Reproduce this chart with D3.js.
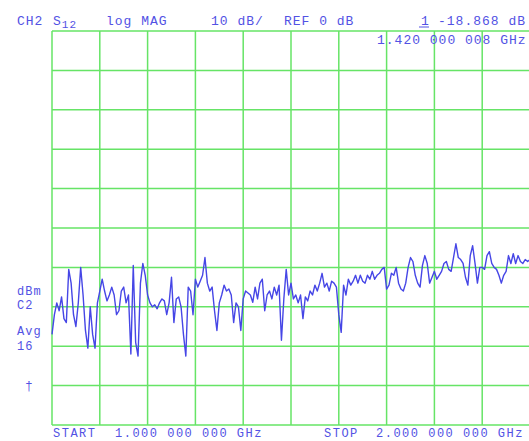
<!DOCTYPE html>
<html>
<head>
<meta charset="utf-8">
<script src="https://cdn.jsdelivr.net/npm/d3@7"></script>
<style>
  html, body { margin: 0; padding: 0; background: #ffffff; }
  svg { display: block; }
  .ann { font-family: "Liberation Mono", "DejaVu Sans Mono", monospace; font-size: 13px; fill: #5252e4; letter-spacing: 1px; }
  .side { font-size: 12px; }
  .foot { font-size: 12px; letter-spacing: 1.5px; }
</style>
</head>
<body>
<script>
// Sweep settings (GHz) and display scale (dB)
const startGHz = 1.0;
const stopGHz = 2.0;
const refLevel = 0;      // dB at the centre graticule line
const scaleDiv = 10;     // dB per division
const divisions = 10;

// S12 log-magnitude trace, 201 points across the sweep (dB)
const s12dB = [
  -27, -22, -19, -21, -17.5, -23, -24, -10.5, -14, -22, -25, -19, -10, -17, -26, -30.5, -20, -27, -30.5, -19, -16,
  -13, -16, -18.5, -17, -15, -17, -22, -21, -16, -15, -19, -17, -32, -9.5, -29, -32.5, -14, -9, -12, -17, -19,
  -20, -19.5, -20.5, -19, -18, -18.5, -22, -19, -12.5, -24, -18, -17.5, -20, -27, -32.5, -15, -16, -22, -13, -15,
  -13.5, -12, -7.5, -14, -16, -15, -21, -26, -19, -17, -14.5, -16, -15.5, -17, -24, -19, -20, -26, -18,
  -16, -16.5, -17, -18.868, -15, -18, -14, -13, -21, -17, -16, -18, -15, -17, -14.5, -28.5, -18, -10.5, -17, -14,
  -18, -17, -19, -17, -23, -17.5, -18.5, -16, -17, -14.5, -16, -14, -11.5, -15, -14, -16, -13.5, -14, -15, -22, -26.5,
  -14.5, -17, -13, -14.5, -13.5, -12, -14, -12, -13.5, -14, -12, -13, -11, -13, -12, -11.5, -10.5, -10, -15.5, -14.5,
  -11.5, -12, -10, -14, -15.5, -16, -14, -10, -7.5, -8.5, -12, -14, -15, -9.5, -7, -9, -14, -12.5, -11, -13,
  -12, -11, -9, -8.5, -10.5, -11, -7.5, -4, -7.5, -8, -9, -12.5, -14.5, -7, -4.5, -9, -14, -10, -10, -10.5,
  -7, -6, -9, -10, -10.5, -12, -14, -12, -11, -7, -9, -6.5, -9, -7, -8.5, -9, -8, -8.5, -8
];

// Annotation text
const headerItems = [
  { text: "CH2", x: 17 },
  { text: "log MAG", x: 106 },
  { text: "10 dB/", x: 211 },
  { text: "REF 0 dB", x: 284 },
  { text: "-18.868 dB", x: 438 }
];
const markerNo = "1";
const markerFreq = "1.420 000 008 GHz";
const sideLabels = [
  { text: "dBm", y: 295 },
  { text: "C2", y: 309 },
  { text: "Avg", y: 335 },
  { text: "16", y: 350 }
];
const footerItems = [
  { text: "START", x: 53 },
  { text: "1.000 000 000 GHz", x: 115 },
  { text: "STOP", x: 324 },
  { text: "2.000 000 000 GHz", x: 376 }
];

const W = 529, H = 441;
const plot = { left: 52, right: 530, top: 31, bottom: 425 };

const svg = d3.select("body").append("svg").attr("width", W).attr("height", H);

const x = d3.scaleLinear().domain([startGHz, stopGHz]).range([plot.left, plot.right]);
const y = d3.scaleLinear()
  .domain([refLevel - scaleDiv * divisions / 2, refLevel + scaleDiv * divisions / 2])
  .range([plot.bottom, plot.top]);

// Graticule
const grid = svg.append("g").attr("stroke", "#66e466").attr("stroke-width", 1.5).attr("fill", "none");
grid.selectAll("line.v").data(x.ticks(divisions)).join("line")
  .attr("class", "v")
  .attr("x1", d => x(d)).attr("x2", d => x(d))
  .attr("y1", plot.top).attr("y2", plot.bottom);
grid.selectAll("line.h").data(y.ticks(divisions)).join("line")
  .attr("class", "h")
  .attr("y1", d => y(d)).attr("y2", d => y(d))
  .attr("x1", plot.left).attr("x2", plot.right);

// Trace
const step = (stopGHz - startGHz) / (s12dB.length - 1);
const line = d3.line()
  .x((d, i) => x(startGHz + i * step))
  .y(d => y(d));
svg.append("path")
  .datum(s12dB)
  .attr("d", line)
  .attr("fill", "none")
  .attr("stroke", "#4646e6")
  .attr("stroke-width", 1.4)
  .attr("stroke-linejoin", "round");

// Header annotations
const ann = svg.append("g");
ann.selectAll("text.h").data(headerItems).join("text")
  .attr("class", "ann h")
  .attr("x", d => d.x).attr("y", 25)
  .text(d => d.text);

// Parameter label S12 with subscript
const s = ann.append("text").attr("class", "ann").attr("x", 53).attr("y", 25);
s.append("tspan").text("S");
s.append("tspan").attr("dy", 3).attr("font-size", 11).text("12");

// Marker number with underline and marker frequency
ann.append("text").attr("class", "ann").attr("x", 421).attr("y", 25).text(markerNo);
ann.append("line").attr("x1", 419).attr("x2", 429).attr("y1", 27).attr("y2", 27)
  .attr("stroke", "#5252e4").attr("stroke-width", 1);
ann.append("text").attr("class", "ann").attr("x", 377).attr("y", 44).text(markerFreq);

// Left-side status annotations
ann.selectAll("text.s").data(sideLabels).join("text")
  .attr("class", "ann side s")
  .attr("x", 17).attr("y", d => d.y)
  .text(d => d.text);
ann.append("text").attr("class", "ann").attr("x", 25).attr("y", 390)
  .attr("font-size", 10).text("†");

// Footer annotations
ann.selectAll("text.f").data(footerItems).join("text")
  .attr("class", "ann foot f")
  .attr("x", d => d.x).attr("y", 437)
  .text(d => d.text);
</script>
</body>
</html>
